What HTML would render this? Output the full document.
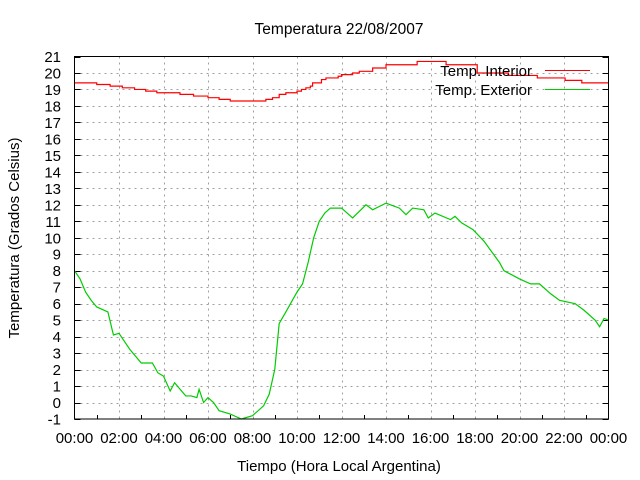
<!DOCTYPE html>
<html><head><meta charset="utf-8"><style>
html,body{margin:0;padding:0;background:#fff;}
svg{display:block;font-family:"Liberation Sans",sans-serif;}
</style></head><body>
<svg id="chart" width="640" height="480" xmlns="http://www.w3.org/2000/svg">
<rect width="640" height="480" fill="#fff"/>
<g id="grid"></g>
<g id="ticks"></g>
<g id="series"></g>
<rect x="74.5" y="56.5" width="534" height="362.5" fill="none" stroke="#000" stroke-width="1"/>
<text x="339" y="34" font-size="15.5" text-anchor="middle">Temperatura 22/08/2007</text>
<text x="339" y="471" font-size="15" text-anchor="middle">Tiempo (Hora Local Argentina)</text>
<text transform="translate(19,238) rotate(-90)" font-size="15" text-anchor="middle">Temperatura (Grados Celsius)</text>
<g>
<text x="532" y="76" font-size="15" text-anchor="end">Temp. Interior</text>
<line x1="545" y1="70.5" x2="590" y2="70.5" stroke="#f00" stroke-width="1"/>
<text x="532" y="95" font-size="15" text-anchor="end">Temp. Exterior</text>
<line x1="545" y1="89.5" x2="590" y2="89.5" stroke="#0c0" stroke-width="1"/>
</g>
</svg>
<script>
const yTicks=[-1,0,1,2,3,4,5,6,7,8,9,10,11,12,13,14,15,16,17,18,19,20,21];
const xTickHours=[0,2,4,6,8,10,12,14,16,18,20,22,24];
const xTickLabels=["00:00","02:00","04:00","06:00","08:00","10:00","12:00","14:00","16:00","18:00","20:00","22:00","00:00"];
const interiorTimes=[0,1.0,1.6,2.15,2.7,3.2,3.7,4.74,5.35,6.0,6.5,7.0,8.6,8.9,9.2,9.5,10.0,10.2,10.4,10.6,10.7,11.1,11.3,11.85,12.0,12.5,12.8,13.4,14.0,15.4,16.7,18.1,19.5,20.8,22.05,22.8];
const interiorVals=[19.4,19.3,19.2,19.1,19.0,18.9,18.8,18.7,18.6,18.5,18.4,18.3,18.4,18.5,18.7,18.8,18.9,19.0,19.1,19.2,19.4,19.6,19.7,19.8,19.9,20.0,20.1,20.3,20.5,20.7,20.5,20.0,19.85,19.7,19.55,19.4];
const exteriorTimes=[0,0.25,0.5,0.75,1.0,1.5,1.75,2.0,2.5,3.0,3.5,3.75,4.0,4.3,4.5,4.75,5.0,5.25,5.5,5.6,5.8,6.0,6.25,6.5,7.0,7.5,8.0,8.5,8.75,9.0,9.2,9.5,10.0,10.25,10.5,10.75,11.0,11.25,11.5,12.0,12.5,13.1,13.4,14.0,14.6,14.9,15.2,15.7,15.9,16.2,16.9,17.1,17.4,17.9,18.4,19.1,19.3,20.0,20.5,20.9,21.4,21.8,22.5,22.9,23.4,23.6,23.8,24];
const exteriorVals=[8.0,7.5,6.7,6.2,5.8,5.5,4.1,4.2,3.2,2.4,2.4,1.8,1.6,0.7,1.2,0.8,0.4,0.4,0.3,0.8,0.0,0.3,0.0,-0.5,-0.7,-1.0,-0.8,-0.2,0.5,2.0,4.8,5.5,6.7,7.2,8.5,10.0,11.0,11.5,11.8,11.8,11.2,12.0,11.7,12.1,11.8,11.4,11.8,11.7,11.2,11.5,11.1,11.3,10.9,10.5,9.8,8.5,8.0,7.5,7.2,7.2,6.6,6.2,6.0,5.6,5.0,4.6,5.1,5.0];
const X0=74.5,X1=608.5,Y0=419,Y1=56.5;
function xs(h){return X0+(X1-X0)*h/24;}
function ys(v){return Y0-(Y0-Y1)*(v+1)/22;}
const NS="http://www.w3.org/2000/svg";
const grid=document.getElementById('grid'),ticks=document.getElementById('ticks'),series=document.getElementById('series');
function mk(t,a,p){const e=document.createElementNS(NS,t);for(const k in a)e.setAttribute(k,a[k]);p.appendChild(e);return e;}
yTicks.forEach(v=>{
 const y=Math.round(ys(v))+0.5;
 if(v>-1&&v<21){const g=mk('line',{x1:X0,x2:X1,y1:y,y2:y,stroke:'#a0a0a0','stroke-dasharray':'2,4'},grid);
 
 }
 const t1=mk('line',{x1:X0,x2:X0+6,y1:y,y2:y,stroke:'#000'},ticks);
 
 
 const t2=mk('line',{x1:X1-6,x2:X1,y1:y,y2:y,stroke:'#000'},ticks);
 
 
 const l=mk('text',{x:61,y:ys(v)+5.5,'font-size':15,'text-anchor':'end'},ticks);
 l.textContent=v;
 
 
});
xTickHours.forEach((h,i)=>{
 const x=Math.round(xs(h))+0.5;
 if(h>0&&h<24){const g=mk('line',{x1:x,x2:x,y1:Y1,y2:Y0,stroke:'#a0a0a0','stroke-dasharray':'2,4'},grid);
 
 }
 const l=mk('text',{x:xs(h),y:443,'font-size':15,'text-anchor':'middle'},ticks);
 l.textContent=xTickLabels[i];
 
 
});
for(let h=1;h<24;h+=2){const x=Math.round(xs(h))+0.5;
 const t=mk('line',{x1:x,x2:x,y1:Y0-4,y2:Y0,stroke:'#000'},ticks);
 
 }
let d='M'+xs(interiorTimes[0])+','+ys(interiorVals[0]);
for(let i=1;i<interiorTimes.length;i++){d+='H'+xs(interiorTimes[i])+'V'+ys(interiorVals[i]);}
d+='H'+X1;
const pi=mk('path',{d:d,fill:'none',stroke:'#f00','stroke-width':1.2},series);


const pts=exteriorTimes.map((t,i)=>xs(t)+','+ys(exteriorVals[i])).join(' ');
const pe=mk('polyline',{points:pts,fill:'none',stroke:'#0c0','stroke-width':1.2},series);


</script>
</body></html>
